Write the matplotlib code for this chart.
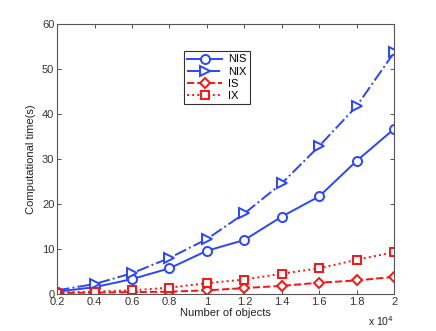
import matplotlib.pyplot as plt
plt.rc('font', family='Liberation Sans')
import numpy as np

# number of objects (x 10^4)
n_objects = [0.2, 0.4, 0.6, 0.8, 1.0, 1.2, 1.4, 1.6, 1.8, 2.0]

t_nis = [0.5, 1.5, 3.3, 5.7, 9.6, 12.0, 17.2, 21.7, 29.6, 36.7]
t_nix = [0.8, 2.2, 4.6, 8.0, 12.2, 17.9, 24.6, 32.9, 41.8, 53.7]
t_is  = [0.2, 0.3, 0.4, 0.5, 0.8, 1.3, 1.8, 2.5, 3.0, 3.8]
t_ix  = [0.3, 0.5, 0.8, 1.4, 2.4, 3.2, 4.5, 5.7, 7.6, 9.3]

xticks = [0.2, 0.4, 0.6, 0.8, 1, 1.2, 1.4, 1.6, 1.8, 2]
xtick_labels = ['0.2', '0.4', '0.6', '0.8', '1', '1.2', '1.4', '1.6', '1.8', '2']

blue = '#2a44ff'
red = '#ff1010'
f_size = 8

fig = plt.figure(figsize=(4.36, 3.31), dpi=100)
ax = fig.add_axes([0.131, 0.112, 0.773, 0.815])

ms = 6.5
ax.plot(n_objects, t_nis, '-', color=blue, lw=1.4, marker='o', ms=ms, mfc='white', mec=blue, mew=1.4, label='NIS')
ax.plot(n_objects, t_nix, '-.', color=blue, lw=1.4, marker='>', ms=ms + 1, mfc='white', mec=blue, mew=1.4, label='NIX')
ax.plot(n_objects, t_is, '--', color=red, lw=1.4, marker='D', ms=ms - 1, mfc='white', mec=red, mew=1.4, label='IS')
ax.plot(n_objects, t_ix, ':', color=red, lw=1.4, marker='s', ms=ms - 0.5, mfc='white', mec=red, mew=1.4, label='IX')

ax.set_xlim(0.2, 2)
ax.set_ylim(0, 60)
ax.set_xticks(xticks)
ax.set_xticklabels(xtick_labels)
ax.set_yticks([0, 10, 20, 30, 40, 50, 60])
ax.tick_params(direction='in', top=True, right=True, labelsize=f_size, colors='#333333', length=3, width=0.6, pad=2)
for s in ax.spines.values():
    s.set_color('#555555')
    s.set_linewidth(0.8)

ax.set_xlabel('Number of objects', size=f_size, color='#222222', labelpad=1)
ax.set_ylabel('Computational time(s)', size=f_size, color='#222222', labelpad=4)
ax.text(1.0, -0.075, r'x 10$^4$', transform=ax.transAxes, ha='right', va='top', size=f_size - 0.5, color='#222222')

leg = ax.legend(loc='upper left', bbox_to_anchor=(0.375, 0.9), fontsize=f_size, fancybox=False,
                framealpha=1, edgecolor='#333333', handlelength=3.2, handletextpad=0.5,
                borderpad=0.3, labelspacing=0.2, borderaxespad=0)
leg.get_frame().set_linewidth(0.8)

plt.savefig('out.png', dpi=100)
